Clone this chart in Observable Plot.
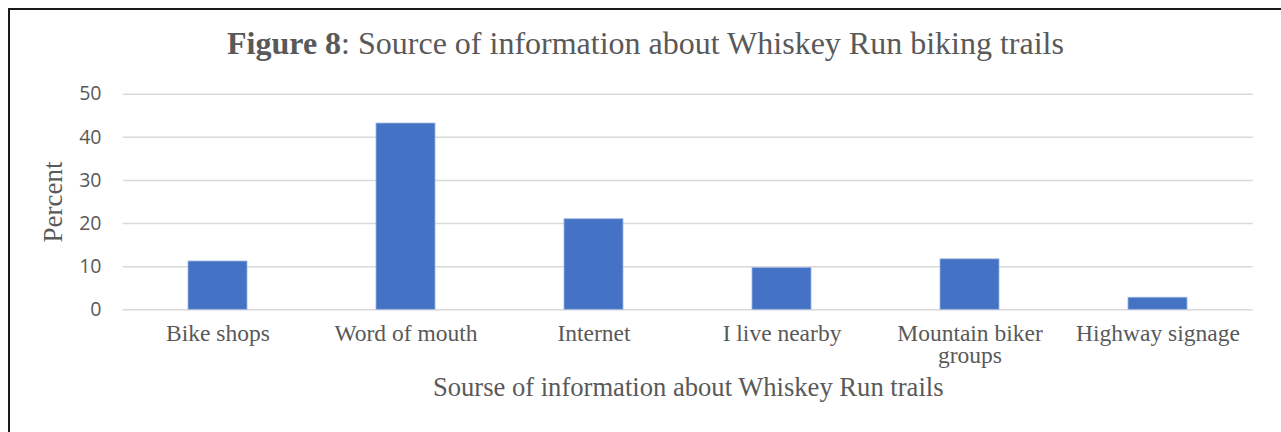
<!DOCTYPE html>
<html><head><meta charset="utf-8">
<script src="https://cdn.jsdelivr.net/npm/d3@7"></script>
<script src="https://cdn.jsdelivr.net/npm/@observablehq/plot@0.6"></script>
<style>
body{margin:0;background:#fff;overflow:hidden;width:1281px;height:432px;position:relative}
#frame{position:absolute;left:8px;top:8px;width:1300px;height:500px;border:2px solid #1a1a1a;box-sizing:border-box}
#title{position:absolute;left:0;top:26.5px;width:1291px;text-align:center;font-family:"Liberation Serif","Times New Roman",serif;font-size:32px;line-height:32px;color:#595959;white-space:nowrap}
#chart{position:absolute;left:0;top:62px}
</style></head><body>
<div id="frame"></div>
<div id="title"></div>
<div id="chart"></div>
<script>
const titleBold = "Figure 8";
const titleRest = ": Source of information about Whiskey Run biking trails";
const categories = ["Bike shops", "Word of mouth", "Internet", "I live nearby", "Mountain biker groups", "Highway signage"];
const tickLabels = ["Bike shops", "Word of mouth", "Internet", "I live nearby", "Mountain biker\ngroups", "Highway signage"];
const percents = [11.2, 43.2, 21.0, 9.7, 11.7, 2.8];
const yTicks = [0, 10, 20, 30, 40, 50];
const yLabel = "Percent";
const xLabel = "Sourse of information about Whiskey Run trails";

const t = document.getElementById("title");
const b = document.createElement("b"); b.textContent = titleBold;
t.appendChild(b); t.appendChild(document.createTextNode(titleRest));

const data = categories.map((c, i) => ({category: c, value: percents[i]}));
const serif = "'Liberation Serif', 'Times New Roman', serif";
const sans = "'Open Sans', Lato, sans-serif";
const textColor = "#595959";

const plot = Plot.plot({
  width: 1281, height: 370,
  marginLeft: 122.7, marginRight: 28.3, marginTop: 31.7, marginBottom: 122.7,
  x: {domain: categories, paddingInner: 0.688, paddingOuter: 0.344, axis: null},
  y: {domain: [0, 50], axis: null},
  style: {background: "transparent", color: textColor, overflow: "visible"},
  marks: [
    Plot.gridY(yTicks, {stroke: "#d9d9d9", strokeOpacity: 1, strokeWidth: 1.5}),
    Plot.barY(data, {x: "category", y: "value", fill: "#4472C4", stroke: "#9db5e2", strokeWidth: 0.8}),
    Plot.axisY(yTicks, {tickSize: 0, tickPadding: 21.7, fontSize: 19.5, fontFamily: sans, fill: textColor, label: null}),
    Plot.axisX({tickSize: 0, tickPadding: 14.7, fontSize: 23.5, fontFamily: serif, fill: textColor, label: null, lineHeight: 0.97,
      tickFormat: d => tickLabels[categories.indexOf(d)]}),
    Plot.text([yLabel], {text: d => d, frameAnchor: "left", textAnchor: "middle", rotate: -90, dx: -80, lineAnchor: "top", fontSize: 27, fontFamily: serif, fill: textColor}),
    Plot.text([xLabel], {text: d => d, frameAnchor: "bottom", dy: 86, fontSize: 26.6, fontFamily: serif, fill: textColor})
  ]
});
document.getElementById("chart").appendChild(plot);
</script>
</body></html>
